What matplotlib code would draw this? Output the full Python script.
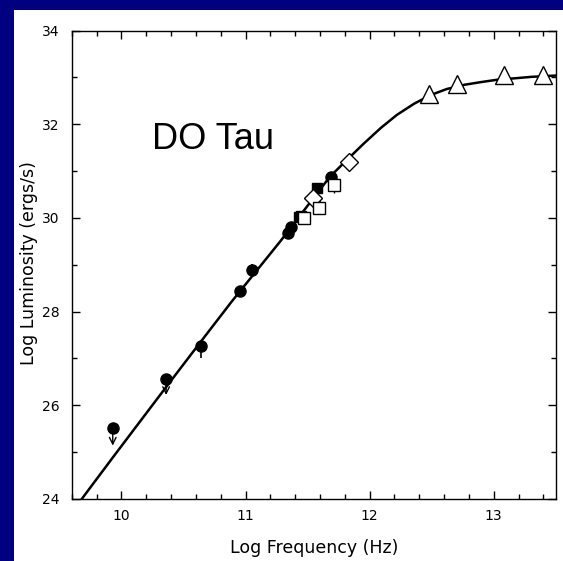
import matplotlib
matplotlib.use("Agg")
import matplotlib.pyplot as plt
from matplotlib.ticker import MultipleLocator

# --- model SED curve (log nu, log L) ---
curve_x = [9.60, 9.68, 9.94, 10.32, 10.64, 10.89, 11.28, 11.50, 11.68, 11.81,
           11.95, 12.09, 12.22, 12.36, 12.49, 12.62, 12.76, 12.90, 13.03, 13.17,
           13.30, 13.51]
curve_y = [23.72, 24.00, 24.92, 26.25, 27.36, 28.22, 29.50, 30.26, 30.88, 31.22,
           31.58, 31.92, 32.20, 32.44, 32.62, 32.75, 32.84, 32.90, 32.95, 32.98,
           33.01, 33.04]

# --- photometry ---
circ_x = [10.955, 11.34, 11.37, 11.69]
circ_y = [28.45, 29.68, 29.81, 30.87]

# upper limits (filled circles with downward arrows)
lim_x = [9.93, 10.36]
lim_y = [25.51, 26.57]
lim_tip = [25.14, 26.22]

# circles with one-sided error bars
err_x = [10.64, 11.05]
err_y = [27.27, 28.89]
err_lo = [0.26, 0.0]
err_hi = [0.0, 0.13]

fsq_x = [11.43, 11.45, 11.575]
fsq_y = [30.01, 30.05, 30.63]

ftri_x = [11.575]
ftri_y = [30.36]

osq_x = [11.47, 11.59, 11.71]
osq_y = [30.00, 30.22, 30.70]
osq_err = [0.10, 0.10, 0.16]

odia_x = [11.54, 11.83]
odia_y = [30.42, 31.20]

otri_x = [12.48, 12.70, 13.08, 13.40]
otri_y = [32.65, 32.85, 33.04, 33.04]

W, H, DPI = 563, 561, 100
fig = plt.figure(figsize=(W / DPI, H / DPI), dpi=DPI)
fig.patch.set_facecolor("#000080")

# white page behind the plot
page = fig.add_axes([13.5 / W, 0, 1 - 13.5 / W, 1 - 10 / H], zorder=-10)
page.set_axis_off()
page.add_patch(plt.Rectangle((0, 0), 1, 1, transform=page.transAxes,
                             facecolor="white", edgecolor="none"))

ax = fig.add_axes([71.8 / W, 1 - 499 / H, (555.8 - 71.8) / W, (499 - 30.5) / H])
ax.set_facecolor("white")
ax.set_xlim(9.6, 13.5)
ax.set_ylim(24, 34)

ax.plot(curve_x, curve_y, color="black", lw=1.8, zorder=2, clip_on=True)

ms_c = 8
ax.plot(circ_x, circ_y, "o", color="black", ms=ms_c, zorder=4)
ax.plot(lim_x, lim_y, "o", color="black", ms=ms_c, zorder=4)
for x, y, t in zip(lim_x, lim_y, lim_tip):
    ax.annotate("", xy=(x, t), xytext=(x, y),
                arrowprops=dict(arrowstyle="->", lw=1.0, color="black",
                                shrinkA=0, shrinkB=0, mutation_scale=12),
                zorder=3)
ax.errorbar(err_x, err_y, yerr=[err_lo, err_hi], fmt="o", color="black",
            ms=ms_c, elinewidth=1.2, capsize=0, zorder=4)

ax.plot(fsq_x, fsq_y, "s", color="black", ms=7, zorder=4)
ax.plot(ftri_x, ftri_y, "^", color="black", ms=7, zorder=4)
ax.errorbar(osq_x, osq_y, yerr=osq_err, fmt="s", mfc="white", mec="black",
            ecolor="black", ms=8, mew=1.0, elinewidth=1.0, capsize=0, zorder=5)
ax.plot(odia_x, odia_y, "D", mfc="white", mec="black", ms=9, mew=1.0, zorder=5)
ax.plot(otri_x, otri_y, "^", mfc="white", mec="black", ms=13, mew=1.0, zorder=5)

ax.xaxis.set_major_locator(MultipleLocator(1))
ax.xaxis.set_minor_locator(MultipleLocator(0.2))
ax.yaxis.set_major_locator(MultipleLocator(2))
ax.yaxis.set_minor_locator(MultipleLocator(1))
ax.tick_params(which="both", direction="in", top=True, right=True,
               color="black", width=1.0)
ax.tick_params(which="major", length=6, labelsize=10, pad=9)
ax.tick_params(which="minor", length=3.5)
ax.tick_params(axis="x", which="major", pad=7)
for s in ax.spines.values():
    s.set_linewidth(1.0)
    s.set_color("black")

ax.set_xlabel("Log Frequency (Hz)", fontsize=12.5, labelpad=12)
fig.text(29 / W, 1 - 263 / H, "Log Luminosity (ergs/s)", fontsize=12.5,
         rotation=90, ha="center", va="center")

ax.text(0.165, 0.747, "DO Tau", transform=ax.transAxes, fontsize=26,
        family="Liberation Sans", color="black", ha="left", va="baseline")

fig.savefig("out.png", dpi=DPI, facecolor=fig.get_facecolor())
